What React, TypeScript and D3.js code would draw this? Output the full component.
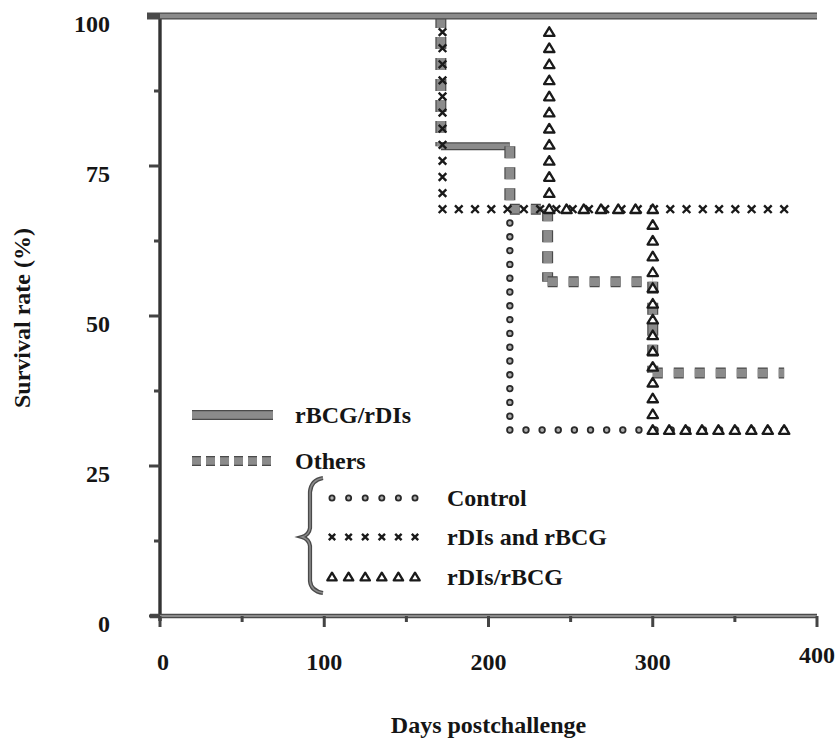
import React from 'react'
import * as d3 from 'd3'

// axis ticks
const xTicks = [0, 100, 200, 300, 400]
const xMinorTicks = [50, 150, 250, 350]
const yTicks = [0, 25, 50, 75, 100]
const yMinorTicks = [12.5, 37.5, 62.5, 87.5]

// step curves as [day, survival %]
const rbcgRdis: [number, number][] = [[0, 100], [400, 100]]
const others: [number, number][] = [[171, 100], [171, 78.3], [213, 78.3], [213, 67.8], [236, 67.8], [236, 55.7], [300, 55.7], [300, 40.5], [380, 40.5]]
const control: [number, number][] = [[213, 67.8], [213, 31], [380, 31]]
const rdisAndRbcg: [number, number][] = [[172, 100], [172, 67.8], [380, 67.8]]
const rdisSlashRbcg: [number, number][] = [[237, 100], [237, 67.8], [300, 67.8], [300, 31], [380, 31]]

const mainLegend = ['rBCG/rDIs', 'Others']
const subLegend = ['Control', 'rDIs and rBCG', 'rDIs/rBCG']

const FONT = '"Liberation Serif", "DejaVu Serif", serif'
const INK = '#151515'
const GRAY = '#8b8b8b'
const EDGE = '#4a4a4a'

const x = d3.scaleLinear().domain([0, 400]).range([160, 817])
const y = d3.scaleLinear().domain([0, 100]).range([616, 16])

const stepLine = d3.line<[number, number]>().x(d => x(d[0])).y(d => y(d[1]))

// spread markers along each segment of a step path (pixel space)
function markerPoints(data: [number, number][], hGap: number, vGap: number) {
  const pts: [number, number][] = []
  for (let i = 1; i < data.length; i++) {
    const x0 = x(data[i - 1][0]), y0 = y(data[i - 1][1])
    const x1 = x(data[i][0]), y1 = y(data[i][1])
    const len = Math.hypot(x1 - x0, y1 - y0)
    const gap = Math.abs(x1 - x0) > Math.abs(y1 - y0) ? hGap : vGap
    const n = Math.max(1, Math.round(len / gap))
    for (let k = 1; k <= n; k++) {
      pts.push([x0 + (x1 - x0) * k / n, y0 + (y1 - y0) * k / n])
    }
  }
  return pts
}

function Circle({ cx, cy, r = 2.8 }: { cx: number, cy: number, r?: number }) {
  return <circle cx={cx} cy={cy} r={r} fill="#b0b0b0" stroke="#2a2a2a" strokeWidth={1.8} />
}
function Cross({ cx, cy, s = 3.8 }: { cx: number, cy: number, s?: number }) {
  return <path d={`M${cx - s},${cy - s}L${cx + s},${cy + s}M${cx - s},${cy + s}L${cx + s},${cy - s}`} stroke="#1a1a1a" strokeWidth={2.4} />
}
function Tri({ cx, cy, s = 1 }: { cx: number, cy: number, s?: number }) {
  return <path d={`M${cx},${cy - 4.8 * s}L${cx + 5.2 * s},${cy + 3.8 * s}L${cx - 5.2 * s},${cy + 3.8 * s}Z`} fill="white" stroke="#1a1a1a" strokeWidth={2.3} strokeLinejoin="round" />
}

function ThickLine({ d, w, dash }: { d: string, w: number, dash?: string }) {
  return (
    <g fill="none">
      <path d={d} stroke={EDGE} strokeWidth={w} strokeDasharray={dash} />
      <path d={d} stroke={GRAY} strokeWidth={w - 2.4} strokeDasharray={dash} />
    </g>
  )
}

export default function App() {
  const ctrlPts = markerPoints(control, 16.2, 14)
  const crossPts = markerPoints(rdisAndRbcg, 16.2, 15.5)
  const triPts = markerPoints(rdisSlashRbcg, 16.1, 16.2)

  // Others: the first horizontal step is drawn as a solid bar in the figure
  const othersSegs = d3.range(1, others.length).map(i => ({
    d: stepLine([others[i - 1], others[i]]) || '',
    solid: i === 2,
    vertical: others[i - 1][0] === others[i][0],
  }))

  const legX0 = 192, legX1 = 273
  const subX0 = 332, subGap = 16.6
  const subY = [498, 537, 577]
  const mainY = [415, 461]
  const brace = 'M323,478 Q311,480 310,492 L310,528 Q309,535 302,537 Q309,539 310,546 L310,581 Q311,591 323,593'

  return (
    <svg width={838} height={742} style={{ position: 'absolute', left: 0, top: 0, background: 'white' }}>
      {/* axes */}
      <line x1={x(0)} x2={x(0)} y1={14} y2={621} stroke="#333" strokeWidth={3.4} />
      <g>
        <line x1={150} x2={x(400)} y1={y(0)} y2={y(0)} stroke={EDGE} strokeWidth={4.5} />
        <line x1={150} x2={x(400)} y1={y(0)} y2={y(0)} stroke={GRAY} strokeWidth={2} />
      </g>
      {xTicks.map(t => (
        <line key={'xt' + t} x1={x(t)} x2={x(t)} y1={y(0)} y2={y(0) + 11} stroke="#444" strokeWidth={3} />
      ))}
      {xMinorTicks.map(t => (
        <line key={'xm' + t} x1={x(t)} x2={x(t)} y1={y(0)} y2={y(0) + 6} stroke="#444" strokeWidth={3} />
      ))}
      {yTicks.map(t => (
        <line key={'yt' + t} x1={x(0) - 11} x2={x(0)} y1={y(t)} y2={y(t)} stroke="#444" strokeWidth={3} />
      ))}
      {yMinorTicks.map(t => (
        <line key={'ym' + t} x1={x(0) - 6} x2={x(0)} y1={y(t)} y2={y(t)} stroke="#444" strokeWidth={3} />
      ))}

      {/* tick labels */}
      <g fontFamily={FONT} fontWeight="bold" fontSize={24} fill={INK}>
        {yTicks.map(t => (
          <text key={'yl' + t} x={110} y={y(t) + 8} textAnchor="end" dominantBaseline="central">{t}</text>
        ))}
        {xTicks.map(t => (
          <text key={'xl' + t} x={x(t) + (t === 0 ? 3 : 0)} y={t === 400 ? 655 : 662} textAnchor="middle" dominantBaseline="central">{t}</text>
        ))}
        <text x={x(200)} y={725} textAnchor="middle" dominantBaseline="central">Days postchallenge</text>
        <text transform="translate(22,318) rotate(-90)" textAnchor="middle" dominantBaseline="central">Survival rate (%)</text>
      </g>

      {/* Others */}
      {othersSegs.map((s, i) => (
        <ThickLine key={'o' + i} d={s.d} w={s.solid ? 8 : 11} dash={s.solid ? undefined : (s.vertical ? '12,9' : '10,11')} />
      ))}

      {/* marker series */}
      {ctrlPts.map((p, i) => <Circle key={'c' + i} cx={p[0]} cy={p[1]} />)}
      {crossPts.map((p, i) => <Cross key={'x' + i} cx={p[0]} cy={p[1]} />)}
      {triPts.map((p, i) => <Tri key={'t' + i} cx={p[0]} cy={p[1]} />)}

      {/* rBCG/rDIs */}
      <ThickLine d={stepLine(rbcgRdis) || ''} w={7} />
      <line x1={147} x2={x(0)} y1={y(100)} y2={y(100)} stroke={EDGE} strokeWidth={7} />

      {/* legend */}
      <ThickLine d={`M${legX0},${mainY[0]}H${legX1}`} w={10} />
      <ThickLine d={`M${legX0},${mainY[1]}H${legX1}`} w={10} dash="9,5" />
      <path d={brace} fill="none" stroke={EDGE} strokeWidth={4.2} />
      <path d={brace} fill="none" stroke={GRAY} strokeWidth={1.6} />
      {d3.range(6).map(i => <Circle key={'lc' + i} cx={subX0 + i * subGap} cy={subY[0]} r={2.6} />)}
      {d3.range(6).map(i => <Cross key={'lx' + i} cx={subX0 + i * subGap} cy={subY[1]} s={3.2} />)}
      {d3.range(6).map(i => <Tri key={'lt' + i} cx={subX0 + i * subGap} cy={subY[2]} s={0.9} />)}
      <g fontFamily={FONT} fontWeight="bold" fontSize={24} fill={INK}>
        {mainLegend.map((l, i) => (
          <text key={l} x={295} y={mainY[i]} dominantBaseline="central">{l}</text>
        ))}
        {subLegend.map((l, i) => (
          <text key={l} x={447} y={subY[i]} dominantBaseline="central">{l}</text>
        ))}
      </g>
    </svg>
  )
}
